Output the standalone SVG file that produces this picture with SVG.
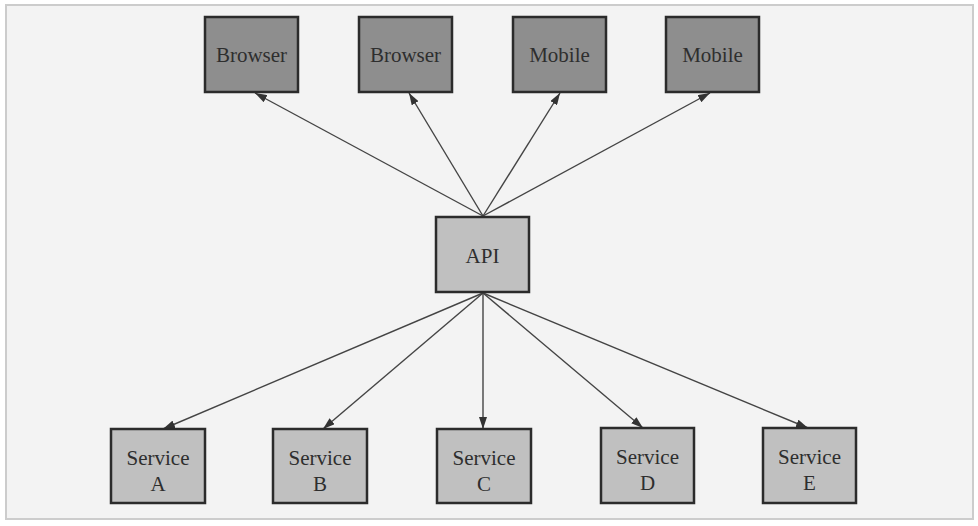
<svg xmlns="http://www.w3.org/2000/svg" width="978" height="526" viewBox="0 0 978 526">
<defs>
<marker id="arr" viewBox="0 0 12 8" refX="12" refY="4" markerWidth="12" markerHeight="8" markerUnits="userSpaceOnUse" orient="auto">
<path d="M0,0 L12,4 L0,8 Z" fill="#333333"/>
</marker>
</defs>
<style>
.dark{fill:#8e8e8e;stroke:#2b2b2b;stroke-width:2.5}
.light{fill:#c0c0c0;stroke:#2b2b2b;stroke-width:2.5}
.t{font-family:"Liberation Serif","Times New Roman",serif;font-size:21px;fill:#2e2e2e;text-anchor:middle}
.e{stroke:#444;stroke-width:1.4;fill:none;marker-end:url(#arr)}
</style>
<rect x="0" y="0" width="978" height="526" fill="#ffffff"/>
<rect x="6" y="5" width="967" height="514" fill="#f3f3f3" stroke="#cccccc" stroke-width="2"/>
<g id="connectors">
<line class="e" x1="483" y1="216" x2="255" y2="93"/>
<line class="e" x1="483" y1="216" x2="409" y2="93"/>
<line class="e" x1="483" y1="216" x2="560" y2="93"/>
<line class="e" x1="483" y1="216" x2="710" y2="93"/>
<line class="e" x1="483" y1="293" x2="163" y2="429"/>
<line class="e" x1="483" y1="293" x2="323" y2="429"/>
<line class="e" x1="483" y1="293" x2="483" y2="429"/>
<line class="e" x1="483" y1="293" x2="643" y2="428"/>
<line class="e" x1="483" y1="293" x2="808" y2="428"/>
</g>
<g id="browser1"><rect class="dark" x="205" y="17" width="93" height="75"/><text class="t" x="251.5" y="62">Browser</text></g>
<g id="browser2"><rect class="dark" x="359" y="17" width="93" height="75"/><text class="t" x="405.5" y="62">Browser</text></g>
<g id="mobile1"><rect class="dark" x="513" y="17" width="93" height="75"/><text class="t" x="559.5" y="62">Mobile</text></g>
<g id="mobile2"><rect class="dark" x="666" y="17" width="93" height="75"/><text class="t" x="712.5" y="62">Mobile</text></g>
<g id="api"><rect class="light" x="436" y="217" width="93" height="75"/><text class="t" x="482.5" y="263">API</text></g>
<g id="serviceA"><rect class="light" x="111" y="429" width="94" height="74"/><text class="t" x="158" y="465">Service</text><text class="t" x="158" y="491">A</text></g>
<g id="serviceB"><rect class="light" x="273" y="429" width="94" height="74"/><text class="t" x="320" y="465">Service</text><text class="t" x="320" y="491">B</text></g>
<g id="serviceC"><rect class="light" x="437" y="429" width="94" height="74"/><text class="t" x="484" y="465">Service</text><text class="t" x="484" y="491">C</text></g>
<g id="serviceD"><rect class="light" x="601" y="428" width="93" height="75"/><text class="t" x="647.5" y="464">Service</text><text class="t" x="647.5" y="490">D</text></g>
<g id="serviceE"><rect class="light" x="763" y="428" width="93" height="75"/><text class="t" x="809.5" y="464">Service</text><text class="t" x="809.5" y="490">E</text></g>
</svg>
